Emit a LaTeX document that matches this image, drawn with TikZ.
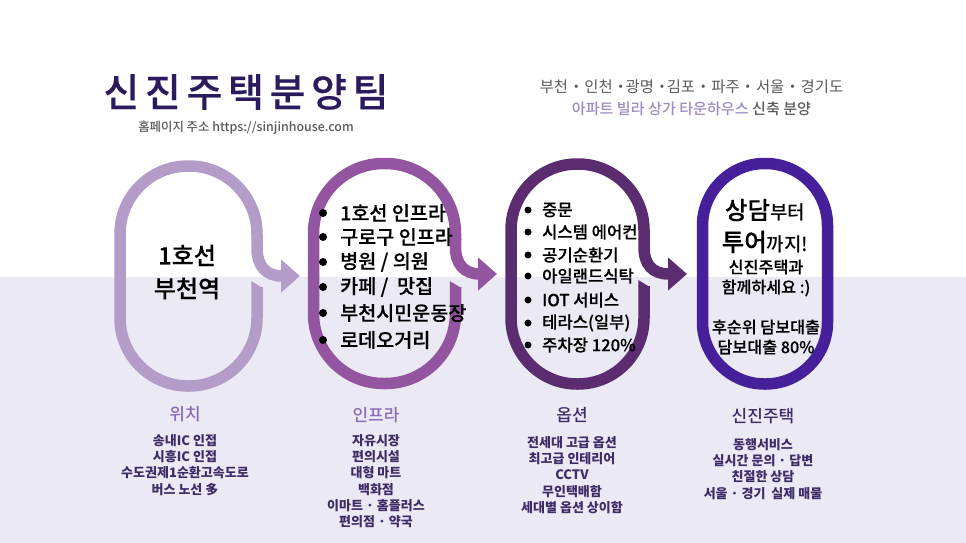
\documentclass[tikz,border=0pt]{standalone}
\usepackage{fontspec}
\usepackage{xcolor}
\usetikzlibrary{
    arrows.meta,
    positioning
}
\setmainfont{Noto Sans CJK KR}
\newfontfamily\medfont{Noto Sans CJK KR Medium}
\newfontfamily\heavyfont[FakeBold=0.3]{Noto Sans CJK KR Medium}
\definecolor{bandcolor}{HTML}{EBE9F3}
\definecolor{titlecolor}{HTML}{2C1A5E}
\definecolor{greytext}{HTML}{5A5A5A}
\definecolor{liloline}{HTML}{B49CC8}
\definecolor{plumline}{HTML}{9355A0}
\definecolor{wineline}{HTML}{5B2D70}
\definecolor{indigoline}{HTML}{46209A}
\definecolor{lilotext}{HTML}{A08CC4}
\definecolor{headtext}{HTML}{8A6DB6}
\definecolor{listtext}{HTML}{3E2C68}
\tikzset{
    pill/.style={line width=11.5pt, rounded corners=#1},
    hook/.style={line width=11.5pt, -{Triangle[length=19pt, width=32pt]}},
    bigitem/.style={anchor=west, inner sep=0pt, font=\fontsize{19.6}{24}\heavyfont},
    smallitem/.style={anchor=west, inner sep=0pt, font=\fontsize{16.6}{20}\heavyfont},
    speech/.style={align=center, inner sep=0pt, text=black},
    colhead/.style={inner sep=0pt, font=\fontsize{17}{20}\medfont},
    collist/.style={align=center, inner sep=0pt, text=listtext, font=\fontsize{13}{16.3}\selectfont\bfseries}
}
\begin{document}
\begin{tikzpicture}[x=1pt, y=-1pt]
    \useasboundingbox (0, 0) rectangle (966, 543);
    \fill[white] (0, 0) rectangle (966, 277);
    \fill[bandcolor] (0, 277) rectangle (966, 543);
    % heading
    \node[inner sep=0pt, text=titlecolor, font=\fontsize{39}{44}\heavyfont\addfontfeature{LetterSpace=14.5}] (title) at (246, 92) {신진주택분양팀};
    \node[inner sep=0pt, text=greytext, font=\fontsize{12.4}{16}\medfont] (homepage) at (246, 128) {홈페이지 주소 https://sinjinhouse.com};
    \node[inner sep=0pt, text=greytext, font=\fontsize{15.4}{18}\selectfont] (regions) at (691.5, 87) {부천 \textbf{·} 인천 \textbf{·}광명 \textbf{·}김포 \textbf{·} 파주 \textbf{·} 서울 \textbf{·} 경기도};
    \node[inner sep=0pt, text=greytext, font=\fontsize{15.1}{18}\medfont] (types) at (691.5, 109) {\textcolor{lilotext}{아파트 빌라 상가 타운하우스} 신축 분양};
    % first loop
    \coordinate (hookA) at (300, 276);
    \draw[liloline, pill=68] (257, 287) -- (257, 386) -- (120, 386) -- (120, 166) -- (257, 166) -- (257, 240);
    \fill[liloline] (251.25, 281) -- (262.75, 288) -- (251.25, 288) -- cycle;
    \draw[liloline, hook] (257, 239) -- (257, 248) .. controls (257, 266) and (266, 276) .. (282, 276) -- (hookA);
    % second loop
    \coordinate (hookB) at (497, 274);
    \draw[plumline, pill=70] (455.5, 287) -- (455.5, 383.5) -- (313.5, 383.5) -- (313.5, 163.5) -- (455.5, 163.5) -- (455.5, 240);
    \fill[plumline] (449.75, 281) -- (461.25, 288) -- (449.75, 288) -- cycle;
    \draw[plumline, hook] (455.5, 239) -- (455.5, 247) .. controls (455.5, 264) and (464, 274) .. (480, 274) -- (hookB);
    % third loop
    \coordinate (hookC) at (687, 274);
    \draw[wineline, pill=66] (644, 286) -- (644, 384) -- (511, 384) -- (511, 164) -- (644, 164) -- (644, 240);
    \fill[wineline] (638.25, 280) -- (649.75, 287) -- (638.25, 287) -- cycle;
    \draw[wineline, hook] (644, 239) -- (644, 247) .. controls (644, 264) and (652, 274) .. (669, 274) -- (hookC);
    % last loop
    \draw[indigoline, pill=62] (702.5, 163.5) rectangle (827.5, 384);
    % texts in the loops
    \node[speech, font=\fontsize{24}{33}\heavyfont] (station) at (187, 272) {1호선\\부천역};
    \fill (323, 213) circle (4);
    \fill (323, 237) circle (4);
    \fill (323, 262) circle (4);
    \fill (323, 287) circle (4);
    \fill (323, 313) circle (4);
    \fill (323, 340) circle (4);
    \node[bigitem] (infraA) at (340, 213) {1호선 인프라};
    \node[bigitem] (infraB) at (340, 237) {구로구 인프라};
    \node[bigitem] (infraC) at (340, 262) {병원 / 의원};
    \node[bigitem] (infraD) at (340, 287) {카페 /\ \ 맛집};
    \node[bigitem] (infraE) at (340, 313) {부천시민운동장};
    \node[bigitem] (infraF) at (340, 340) {로데오거리};
    \fill (528, 210) circle (3.5);
    \fill (528, 232) circle (3.5);
    \fill (528, 255) circle (3.5);
    \fill (528, 276) circle (3.5);
    \fill (528, 300) circle (3.5);
    \fill (528, 323) circle (3.5);
    \fill (528, 345) circle (3.5);
    \node[smallitem] (optionA) at (542, 210) {중문};
    \node[smallitem] (optionB) at (542, 232) {시스템 에어컨};
    \node[smallitem] (optionC) at (542, 255) {공기순환기};
    \node[smallitem] (optionD) at (542, 276) {아일랜드식탁};
    \node[smallitem] (optionE) at (542, 300) {IOT 서비스};
    \node[smallitem] (optionF) at (542, 323) {테라스(일부)};
    \node[smallitem] (optionG) at (542, 345) {주차장 120\%};
    \node[speech, font=\fontsize{19}{22}\medfont] (consultA) at (765, 210) {{\fontsize{24.5}{28}\heavyfont 상담}부터};
    \node[speech, font=\fontsize{19}{22}\medfont] (consultB) at (765, 242) {{\fontsize{24.5}{28}\heavyfont 투어}까지!};
    \node[speech, font=\fontsize{16.2}{20}\heavyfont] (consultC) at (766, 278) {신진주택과\\함께하세요 :)};
    \node[speech, font=\fontsize{16.2}{20}\heavyfont] (consultD) at (766, 337) {후순위 담보대출\\담보대출 80\%};
    % columns under the loops
    \node[colhead, text=headtext] (headA) at (185, 414) {위치};
    \node[colhead, text=headtext] (headB) at (376, 415) {인프라};
    \node[colhead, text=listtext] (headC) at (572, 415) {옵션};
    \node[colhead, text=listtext] (headD) at (763, 416) {신진주택};
    \node[collist, anchor=north] (listA) at (185, 434) {송내IC 인접\\시흥IC 인접\\수도권제1순환고속도로\\버스 노선 多};
    \node[collist, anchor=north] (listB) at (376, 434) {자유시장\\편의시설\\대형 마트\\백화점\\이마트 · 홈플러스\\편의점 · 약국};
    \node[collist, anchor=north] (listC) at (572, 436) {전세대 고급 옵션\\최고급 인테리어\\CCTV\\무인택배함\\세대별 옵션 상이함};
    \node[collist, anchor=north] (listD) at (763, 438) {동행서비스\\실시간 문의 · 답변\\친절한 상담\\서울 · 경기\ \ 실제 매물};
\end{tikzpicture}
\end{document}
